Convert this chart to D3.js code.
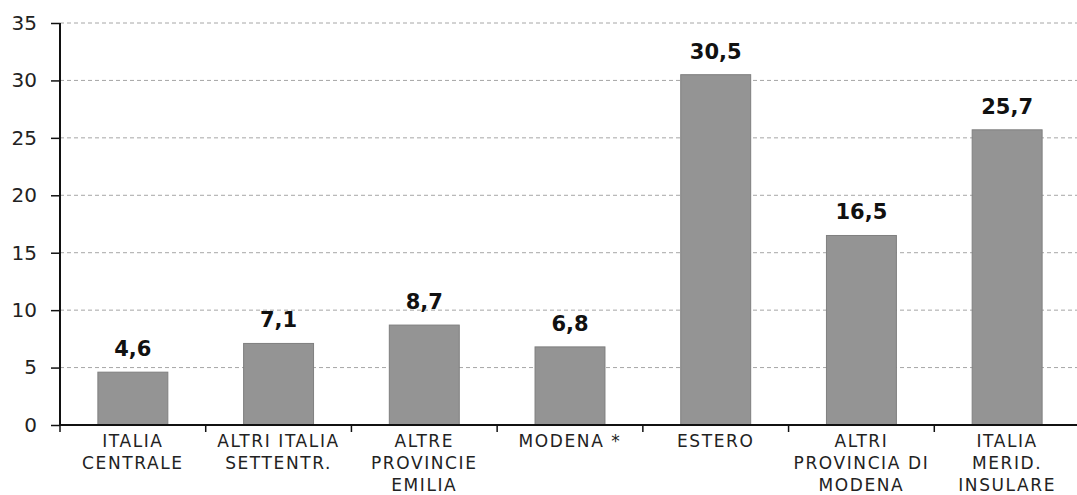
<!DOCTYPE html>
<html>
<head>
  <meta charset="utf-8">
  <title>Provenienza</title>
  <script src="https://cdn.jsdelivr.net/npm/d3@7"></script>
  <style>
    body { margin: 0; background: #fff; }
    text { font-family: "DejaVu Sans", Verdana, sans-serif; }
  </style>
</head>
<body>
<script>
// dati
var categorie = [
  ["ITALIA", "CENTRALE"],
  ["ALTRI ITALIA", "SETTENTR."],
  ["ALTRE", "PROVINCIE", "EMILIA"],
  ["MODENA *"],
  ["ESTERO"],
  ["ALTRI", "PROVINCIA DI", "MODENA"],
  ["ITALIA", "MERID.", "INSULARE"]
];
var valori = [4.6, 7.1, 8.7, 6.8, 30.5, 16.5, 25.7];
var tickY = [0, 5, 10, 15, 20, 25, 30, 35];

var larghezza = 1077, altezza = 495;
var margin = {top: 23, right: -3, bottom: 70, left: 60};

var svg = d3.select("body").append("svg")
  .attr("width", larghezza)
  .attr("height", altezza);

var x = d3.scaleBand()
  .domain(d3.range(valori.length))
  .range([margin.left, larghezza - margin.right])
  .paddingInner(0.52)
  .paddingOuter(0.26);

var y = d3.scaleLinear()
  .domain([0, 35])
  .range([altezza - margin.bottom, margin.top]);

// griglia tratteggiata
svg.append("g")
  .selectAll("line")
  .data(tickY.filter(function(d) { return d > 0; }))
  .enter().append("line")
  .attr("x1", margin.left)
  .attr("x2", larghezza)
  .attr("y1", function(d) { return y(d); })
  .attr("y2", function(d) { return y(d); })
  .attr("stroke", "#a6a6a6")
  .attr("stroke-width", 1)
  .attr("stroke-dasharray", "4,3");

// barre
svg.append("g")
  .selectAll("rect")
  .data(valori)
  .enter().append("rect")
  .attr("x", function(d, i) { return x(i); })
  .attr("y", function(d) { return y(d); })
  .attr("width", x.bandwidth())
  .attr("height", function(d) { return y(0) - y(d); })
  .attr("fill", "#949494")
  .attr("stroke", "#7f7f7f")
  .attr("stroke-width", 1);

// etichette valori
svg.append("g")
  .selectAll("text")
  .data(valori)
  .enter().append("text")
  .attr("x", function(d, i) { return x(i) + x.bandwidth() / 2; })
  .attr("y", function(d) { return y(d) - 16; })
  .attr("text-anchor", "middle")
  .style("font-size", "21px")
  .style("font-weight", "bold")
  .attr("fill", "#111")
  .text(function(d) { return String(d).replace(".", ","); });

// asse Y
var assey = svg.append("g")
  .attr("transform", "translate(" + margin.left + ",0)")
  .call(d3.axisLeft(y).tickValues(tickY).tickSize(9).tickPadding(14)
    .tickFormat(function(d) { return d; }));
assey.select(".domain").attr("stroke", "#111").attr("stroke-width", 2)
  .attr("d", "M0," + y(0) + "V" + y(35));
assey.selectAll(".tick line").attr("stroke", "#111").attr("stroke-width", 1.5);
assey.selectAll(".tick text")
  .style("font-size", "20px")
  .attr("fill", "#222");

// asse X
var passo = x.step();
var confini = d3.range(valori.length + 1).map(function(i) {
  return x(0) - (passo - x.bandwidth()) / 2 + i * passo;
});
var assex = svg.append("g");
assex.append("line")
  .attr("x1", margin.left)
  .attr("x2", larghezza)
  .attr("y1", y(0))
  .attr("y2", y(0))
  .attr("stroke", "#111")
  .attr("stroke-width", 2);
assex.selectAll("line.t")
  .data(confini)
  .enter().append("line")
  .attr("class", "t")
  .attr("x1", function(d) { return d; })
  .attr("x2", function(d) { return d; })
  .attr("y1", y(0))
  .attr("y2", y(0) + 7)
  .attr("stroke", "#111")
  .attr("stroke-width", 1.5);

var etichette = assex.selectAll("text")
  .data(categorie)
  .enter().append("text")
  .attr("text-anchor", "middle")
  .attr("x", function(d, i) { return x(i) + x.bandwidth() / 2; })
  .attr("y", y(0) + 22)
  .style("font-size", "17px")
  .style("letter-spacing", "1.6px")
  .attr("fill", "#222");
etichette.selectAll("tspan")
  .data(function(d) { return d; })
  .enter().append("tspan")
  .attr("x", function() { return d3.select(this.parentNode).attr("x"); })
  .attr("dy", function(d, j) { return j === 0 ? 0 : 22; })
  .text(function(d) { return d; });
</script>
</body>
</html>
